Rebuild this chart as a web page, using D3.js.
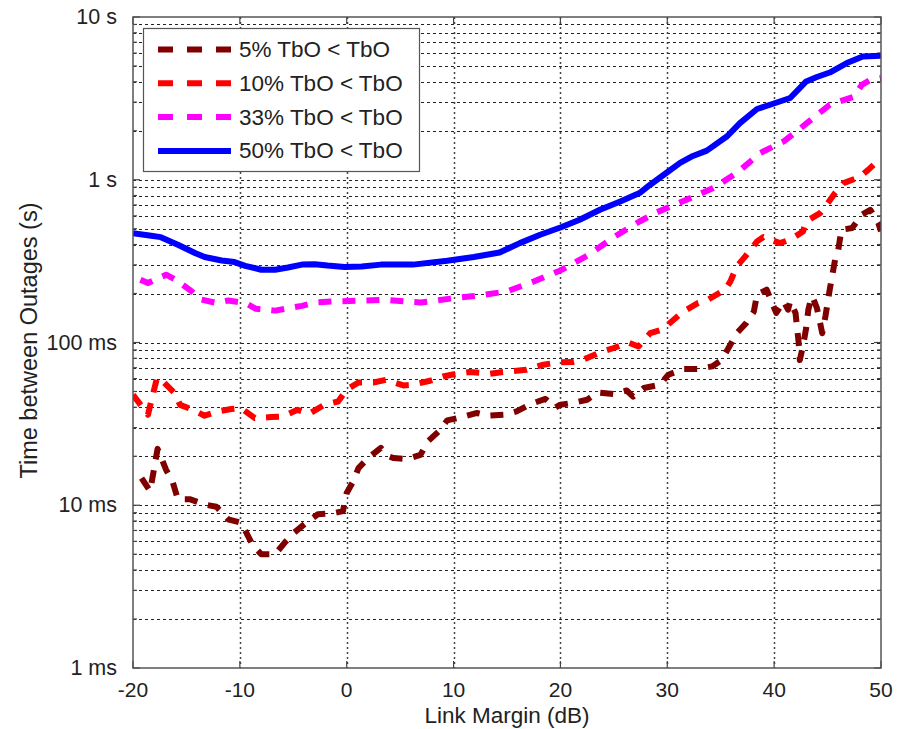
<!DOCTYPE html>
<html>
<head>
<meta charset="utf-8">
<script src="https://cdn.jsdelivr.net/npm/d3@7"></script>
<style>
  body { margin: 0; background: #fff; }
  text { font-family: "Liberation Sans", Arial, sans-serif; fill: #222; }
</style>
</head>
<body>
<svg id="chart" width="905" height="729"></svg>
<script>
// series: [link margin (dB), time between outages (s)]
var tbo5 = [
  [-19.2, 0.0147], [-18.4, 0.0122], [-17.7, 0.0222], [-16.9, 0.0165], [-16.3, 0.0140],
  [-15.8, 0.0109], [-14.7, 0.0109], [-13.3, 0.0101], [-12.2, 0.0098], [-11.1, 0.0082],
  [-9.9, 0.0078], [-9.4, 0.0068], [-8.8, 0.0057], [-8.0, 0.0050], [-6.7, 0.0050],
  [-5.8, 0.0059], [-4.9, 0.0068], [-3.8, 0.0078], [-2.7, 0.0088], [-1.4, 0.0089],
  [-0.35, 0.0092], [0.0, 0.0119], [0.6, 0.0140], [1.1, 0.0169], [2.0, 0.0195],
  [3.2, 0.0225], [3.9, 0.0200], [4.4, 0.0195], [5.6, 0.0192], [6.9, 0.0204],
  [7.6, 0.0247], [8.6, 0.0284], [9.4, 0.0332], [10.8, 0.0348], [12.2, 0.0369],
  [13.3, 0.0355], [14.8, 0.0360], [15.9, 0.0377], [17.3, 0.0421], [18.6, 0.0450],
  [19.5, 0.0397], [20.0, 0.0415], [21.1, 0.0425], [22.5, 0.0445], [23.5, 0.0493],
  [25.0, 0.0482], [26.2, 0.0507], [26.8, 0.0465], [27.8, 0.0525], [29.3, 0.0550],
  [30.1, 0.0634], [31.5, 0.0687], [32.8, 0.0687], [34.2, 0.0713], [35.1, 0.0783],
  [35.9, 0.0969], [36.5, 0.114], [37.4, 0.132], [38.1, 0.155], [38.4, 0.197],
  [39.3, 0.211], [39.8, 0.175], [40.2, 0.152], [40.9, 0.179], [41.3, 0.159],
  [41.5, 0.179], [42.0, 0.152], [42.3, 0.099], [42.4, 0.078], [42.7, 0.095],
  [43.0, 0.123], [43.2, 0.159], [43.5, 0.192], [43.7, 0.183], [44.0, 0.163],
  [44.3, 0.132], [44.5, 0.114], [44.8, 0.145], [45.2, 0.211], [45.7, 0.322],
  [46.0, 0.371], [46.3, 0.493], [47.3, 0.505], [48.2, 0.610], [49.0, 0.654],
  [49.75, 0.542], [50.0, 0.482]
];
var tbo10 = [
  [-20.0, 0.0478], [-18.6, 0.0360], [-18.3, 0.0434], [-17.75, 0.0607], [-17.2, 0.0576],
  [-16.1, 0.0489], [-15.6, 0.0414], [-14.4, 0.0386], [-13.3, 0.0355], [-12.05, 0.0377],
  [-10.8, 0.0390], [-9.9, 0.0396], [-8.6, 0.0343], [-7.1, 0.0348], [-6.0, 0.0351],
  [-4.6, 0.0386], [-3.5, 0.0365], [-2.1, 0.0414], [-0.8, 0.0434], [0.0, 0.0513],
  [1.1, 0.0568], [2.5, 0.0568], [3.7, 0.0590], [5.3, 0.0545], [6.2, 0.0550],
  [7.8, 0.0582], [9.0, 0.0618], [10.6, 0.0649], [11.5, 0.0658], [13.4, 0.0643],
  [14.3, 0.0655], [15.9, 0.0670], [16.8, 0.0680], [18.4, 0.0730], [19.7, 0.0754],
  [21.2, 0.0758], [22.1, 0.0783], [23.7, 0.0869], [25.0, 0.0925], [26.35, 0.100],
  [27.3, 0.0946], [28.4, 0.114], [29.5, 0.120], [30.6, 0.138], [31.5, 0.155],
  [32.9, 0.175], [33.8, 0.183], [35.4, 0.211], [35.9, 0.237], [36.5, 0.293],
  [37.3, 0.338], [38.4, 0.418], [39.0, 0.445], [40.55, 0.408], [41.6, 0.432],
  [42.7, 0.481], [43.0, 0.554], [44.3, 0.624], [44.8, 0.685], [45.7, 0.828],
  [46.5, 0.954], [48.0, 1.04], [48.8, 1.15], [50.0, 1.36]
];
var tbo33 = [
  [-19.3, 0.243], [-18.6, 0.232], [-16.9, 0.261], [-16.0, 0.243], [-14.5, 0.206],
  [-13.8, 0.185], [-12.2, 0.175], [-11.1, 0.181], [-9.5, 0.175], [-8.5, 0.161],
  [-6.7, 0.157], [-4.2, 0.168], [-3.0, 0.176], [-1.1, 0.179], [1.4, 0.181],
  [3.5, 0.183], [6.9, 0.176], [9.7, 0.186], [12.5, 0.195], [15.0, 0.206],
  [17.5, 0.237], [20.0, 0.277], [22.5, 0.341], [25.0, 0.444], [27.4, 0.554],
  [29.0, 0.630], [31.8, 0.754], [34.3, 0.889], [36.5, 1.10], [38.7, 1.46],
  [40.9, 1.72], [43.0, 2.21], [45.2, 2.89], [47.5, 3.24], [48.2, 3.83],
  [49.0, 4.10], [50.0, 4.22]
];
var tbo50 = [
  [-20.0, 0.470], [-18.3, 0.453], [-17.4, 0.444], [-15.8, 0.399], [-14.2, 0.355],
  [-13.3, 0.335], [-11.7, 0.319], [-10.5, 0.312], [-9.5, 0.296], [-8.0, 0.280],
  [-6.7, 0.280], [-5.5, 0.289], [-4.2, 0.301], [-3.0, 0.303], [-1.8, 0.297],
  [-0.2, 0.291], [1.4, 0.293], [3.2, 0.301], [6.2, 0.301], [9.4, 0.318],
  [11.9, 0.335], [14.3, 0.357], [16.2, 0.408], [18.1, 0.459], [20.0, 0.509],
  [21.8, 0.568], [23.7, 0.654], [25.6, 0.736], [27.4, 0.828], [28.4, 0.932],
  [29.9, 1.10], [31.2, 1.27], [32.4, 1.40], [33.7, 1.51], [35.6, 1.85],
  [36.8, 2.23], [38.4, 2.72], [39.9, 2.93], [41.5, 3.18], [43.0, 4.02],
  [44.0, 4.28], [45.2, 4.56], [46.8, 5.21], [48.3, 5.72], [50.0, 5.78]
];

var seriesNames = ['5% TbO < TbO', '10% TbO < TbO', '33% TbO < TbO', '50% TbO < TbO'];
var seriesColors = ['#800000', '#ff0000', '#ff00ff', '#0000ff'];
var seriesDashed = [true, true, true, false];
var seriesData = [tbo5, tbo10, tbo33, tbo50];

var xTicks = [-20, -10, 0, 10, 20, 30, 40, 50];
var yTicks = [0.001, 0.01, 0.1, 1, 10];
var yTickLabels = ['1 ms', '10 ms', '100 ms', '1 s', '10 s'];

var svg = d3.select('#chart');
var plotL = 133, plotR = 881, plotT = 17, plotB = 668;

var x = d3.scaleLinear().domain([-20, 50]).range([plotL, plotR]);
var y = d3.scaleLog().domain([0.001, 10]).range([plotB, plotT]);

// minor values for the log grid
var minorY = [];
yTicks.slice(0, -1).forEach(function(d){
  for (var k = 1; k <= 9; k++) minorY.push(d * k);
});
minorY.push(10);

// grid
var grid = svg.append('g').attr('class', 'grid')
  .attr('stroke', '#222').attr('stroke-width', 1).attr('stroke-dasharray', '3,3');

grid.selectAll('.hg').data(minorY.filter(function(d){ return d > 0.001 && d < 10; }))
  .enter().append('line')
    .attr('x1', plotL).attr('x2', plotR)
    .attr('y1', function(d){ return Math.round(y(d)) + 0.5; })
    .attr('y2', function(d){ return Math.round(y(d)) + 0.5; });

grid.selectAll('.vg').data(xTicks.slice(1, -1))
  .enter().append('line')
    .attr('y1', plotT).attr('y2', plotB)
    .attr('x1', function(d){ return Math.round(x(d)) + 0.5; })
    .attr('x2', function(d){ return Math.round(x(d)) + 0.5; })
    .attr('stroke', '#444').attr('stroke-dasharray', '2,3').attr('stroke-width', 1.5);

// tick marks (inside, both sides)
var ticks = svg.append('g').attr('stroke', '#444').attr('stroke-width', 1.2);
xTicks.forEach(function(d){
  ticks.append('line').attr('x1', x(d)).attr('x2', x(d)).attr('y1', plotB).attr('y2', plotB - 7);
  ticks.append('line').attr('x1', x(d)).attr('x2', x(d)).attr('y1', plotT).attr('y2', plotT + 7);
});
minorY.forEach(function(d){
  var len = yTicks.indexOf(d) >= 0 ? 7 : 4;
  ticks.append('line').attr('x1', plotL).attr('x2', plotL + len).attr('y1', y(d)).attr('y2', y(d));
  ticks.append('line').attr('x1', plotR).attr('x2', plotR - len).attr('y1', y(d)).attr('y2', y(d));
});

// data lines
svg.append('clipPath').attr('id', 'clip')
  .append('rect').attr('x', plotL).attr('y', plotT).attr('width', plotR - plotL).attr('height', plotB - plotT);

var line = d3.line()
  .x(function(d){ return x(d[0]); })
  .y(function(d){ return y(d[1]); });

svg.append('g').attr('clip-path', 'url(#clip)')
  .selectAll('path').data(seriesData)
  .enter().append('path')
    .attr('d', line)
    .attr('fill', 'none')
    .attr('stroke', function(d, i){ return seriesColors[i]; })
    .attr('stroke-width', 6)
    .attr('stroke-linejoin', 'round')
    .attr('stroke-dasharray', function(d, i){ return seriesDashed[i] ? '13,11' : null; });

// axes box
svg.append('rect')
  .attr('x', plotL).attr('y', plotT).attr('width', plotR - plotL).attr('height', plotB - plotT)
  .attr('fill', 'none').attr('stroke', '#555').attr('stroke-width', 1.5);

// tick labels
svg.selectAll('.xl').data(xTicks)
  .enter().append('text')
    .attr('x', function(d){ return x(d); })
    .attr('y', 697)
    .attr('text-anchor', 'middle')
    .attr('font-size', 21)
    .text(function(d){ return d; });

svg.selectAll('.yl').data(yTicks)
  .enter().append('text')
    .attr('x', 117)
    .attr('y', function(d){ return y(d) + 7; })
    .attr('text-anchor', 'end')
    .attr('font-size', 21.5)
    .text(function(d, i){ return yTickLabels[i]; });

// axis titles
svg.append('text')
  .attr('x', (plotL + plotR) / 2).attr('y', 723)
  .attr('text-anchor', 'middle').attr('font-size', 22.5)
  .text('Link Margin (dB)');

svg.append('text')
  .attr('transform', 'translate(37,' + ((plotT + plotB) / 2 - 2) + ') rotate(-90)')
  .attr('text-anchor', 'middle').attr('font-size', 23.5)
  .text('Time between Outages (s)');

// legend
var legend = svg.append('g');
legend.append('rect')
  .attr('x', 143.5).attr('y', 28.5).attr('width', 276).attr('height', 143)
  .attr('fill', '#fff').attr('stroke', '#555').attr('stroke-width', 1.2);

seriesNames.forEach(function(name, i){
  var ly = 49.5 + i * 33.8;
  legend.append('line')
    .attr('x1', 158).attr('x2', 231).attr('y1', ly).attr('y2', ly)
    .attr('stroke', seriesColors[i]).attr('stroke-width', 6)
    .attr('stroke-dasharray', seriesDashed[i] ? '15,14' : null);
  legend.append('text')
    .attr('x', 239).attr('y', ly + 7.5)
    .attr('font-size', 22.5)
    .text(name);
});
</script>
</body>
</html>
